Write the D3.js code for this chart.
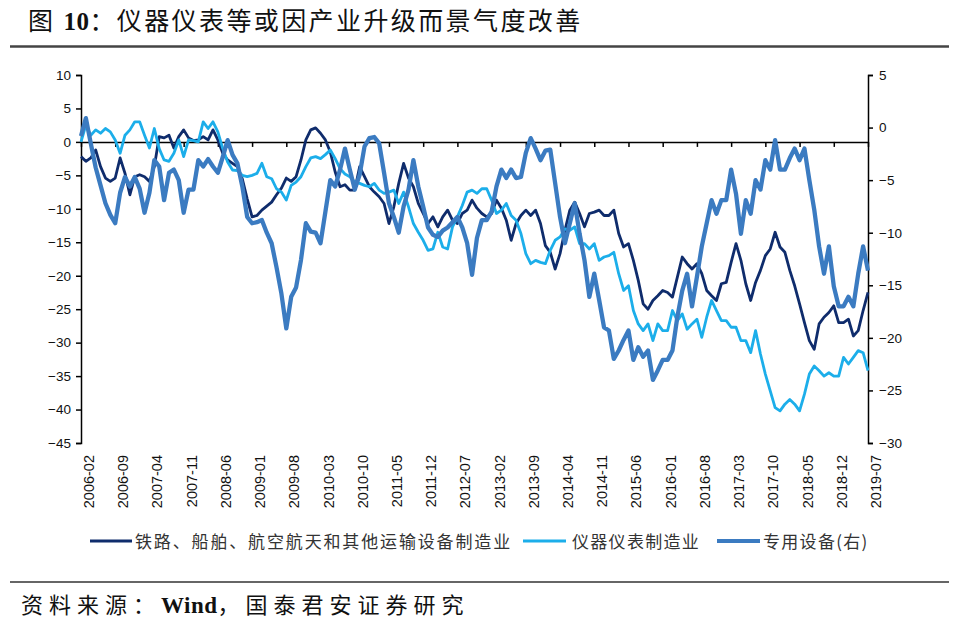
<!DOCTYPE html>
<html><head><meta charset="utf-8">
<script src="https://cdn.jsdelivr.net/npm/d3@7"></script>
<style>
html,body{margin:0;padding:0;background:#fff;}
svg{display:block;}
</style></head>
<body>
<svg id="c" width="959" height="618"></svg>
<script>
// ---- data ----
const startMonth = new Date(2006, 1, 1), endMonth = new Date(2019, 7, 1);
const months = d3.timeMonth.range(startMonth, endMonth).map(d3.timeFormat("%Y-%m"));
const seriesNames = ["铁路、船舶、航空航天和其他运输设备制造业", "仪器仪表制造业", "专用设备(右)"];
const leftTicks = [10, 5, 0, -5, -10, -15, -20, -25, -30, -35, -40, -45];
const rightTicks = [5, 0, -5, -10, -15, -20, -25, -30];

const railway = [
-2.2,-2.9,-2.4,-1.2,-3.7,-5.4,-5.9,-5.4,-2.4,-4.7,-7.9,-5.2,-4.9,-5.2,-5.9,-3.7,0.8,0.6,1.0,-0.9,
0.8,1.8,0.6,0.2,0.3,0.8,0.3,1.8,0.3,-1.7,-2.7,-3.2,-3.7,-5.5,-8.5,-11.2,-11.0,-10.2,-9.6,-9.0,
-7.9,-6.9,-5.4,-5.9,-5.2,-2.7,0.3,1.8,2.1,1.3,0.3,-1.5,-4.5,-6.7,-6.4,-7.2,-7.2,-3.7,-5.2,-6.7,
-7.5,-8.2,-9.2,-12.2,-9.7,-6.2,-3.2,-5.4,-6.7,-9.2,-10.7,-12.2,-11.2,-12.7,-11.2,-10.2,-11.7,-12.2,-10.7,-10.2,
-8.7,-9.9,-10.7,-11.2,-10.7,-8.7,-9.9,-11.7,-14.7,-12.2,-11.0,-10.2,-11.0,-10.2,-12.2,-15.5,-16.5,-19.0,-16.7,-13.2,
-10.2,-9.0,-10.7,-12.7,-10.7,-10.5,-10.2,-11.0,-11.0,-10.2,-13.7,-15.7,-15.2,-17.7,-20.7,-24.2,-25.0,-23.7,-23.0,-22.2,
-22.5,-23.2,-20.2,-17.2,-18.2,-19.0,-18.2,-19.7,-22.2,-23.0,-23.7,-21.2,-21.0,-18.0,-15.2,-17.7,-21.2,-23.7,-21.0,-19.2,
-17.0,-16.0,-13.5,-15.7,-16.5,-19.2,-21.5,-24.2,-27.0,-29.7,-31.0,-27.2,-26.2,-25.5,-24.5,-27.0,-27.0,-26.5,-29.0,-28.2,
-25.2,-22.5];

const instrument = [
0.0,2.5,1.0,1.8,1.3,2.0,1.5,0.3,-1.7,1.0,1.8,3.0,3.0,1.0,-0.9,2.0,-1.0,-2.7,-2.9,-1.7,
0.3,-2.2,0.3,0.2,0.0,3.0,2.0,3.0,1.5,-1.0,-3.0,-4.2,-4.3,-5.0,-5.2,-5.0,-4.7,-3.2,-5.2,-5.5,
-7.0,-7.5,-8.7,-6.5,-6.0,-5.2,-3.7,-2.4,-2.2,-2.5,-1.9,-1.2,-2.5,-4.0,-4.8,-5.2,-6.0,-6.2,-6.5,-6.7,
-6.2,-7.2,-7.7,-7.5,-7.2,-9.2,-7.5,-9.7,-12.2,-13.5,-14.7,-16.2,-16.0,-13.5,-15.7,-16.0,-12.7,-11.2,-9.5,-7.5,
-7.2,-7.7,-7.0,-7.0,-8.7,-10.7,-10.2,-9.2,-11.0,-11.7,-13.7,-16.7,-18.2,-17.7,-18.0,-18.2,-16.2,-14.7,-14.2,-13.0,
-13.2,-12.7,-15.2,-15.2,-16.0,-15.2,-17.7,-17.2,-17.0,-16.5,-19.7,-22.2,-21.5,-25.2,-27.2,-28.2,-27.2,-29.7,-27.2,-28.2,
-28.2,-25.2,-26.7,-25.7,-28.0,-27.2,-26.5,-29.2,-26.2,-23.7,-25.2,-26.7,-26.7,-27.7,-27.7,-29.7,-29.7,-31.5,-28.2,-31.7,
-34.7,-37.2,-39.7,-40.2,-39.2,-38.5,-39.2,-40.2,-37.7,-34.7,-33.5,-34.2,-35.0,-34.5,-35.0,-35.0,-32.2,-33.2,-32.2,-31.2,
-31.5,-34.2];

const specialEquip = [
-0.8,0.9,-1.5,-3.8,-5.5,-7.2,-8.3,-9.1,-6.2,-4.7,-5.6,-4.7,-5.8,-8.1,-6.2,-3.1,-3.7,-6.9,-4.3,-4.0,
-5.0,-8.1,-5.9,-5.9,-3.1,-3.7,-3.0,-3.7,-4.3,-2.8,-1.2,-2.6,-3.4,-5.6,-8.5,-9.1,-9.0,-8.8,-10.0,-11.0,
-13.3,-15.8,-19.1,-16.1,-15.2,-12.6,-9.1,-9.9,-10.0,-11.0,-8.0,-5.0,-5.6,-4.0,-2.0,-4.0,-5.9,-4.5,-1.8,-1.0,
-0.9,-1.5,-4.3,-7.2,-8.5,-10.0,-7.5,-5.9,-3.1,-5.6,-7.5,-9.5,-10.2,-10.4,-9.8,-9.5,-9.0,-8.5,-9.5,-11.0,
-14.0,-10.5,-8.8,-8.8,-8.0,-5.6,-4.0,-4.8,-4.0,-4.8,-4.7,-2.4,-1.0,-2.0,-3.1,-2.2,-2.1,-5.3,-8.5,-11.0,
-9.1,-7.2,-10.1,-12.6,-16.1,-13.9,-16.4,-19.0,-19.3,-22.0,-21.2,-20.2,-19.3,-22.1,-20.9,-21.8,-21.2,-24.0,-23.1,-22.1,
-22.1,-21.2,-18.0,-15.5,-13.9,-17.0,-14.2,-11.3,-9.1,-6.9,-8.2,-6.9,-6.9,-4.0,-6.3,-10.1,-6.9,-8.2,-5.0,-5.9,
-3.1,-4.0,-1.2,-4.0,-4.0,-2.9,-2.0,-3.1,-2.0,-5.0,-7.8,-11.3,-13.9,-11.3,-15.1,-17.0,-17.0,-16.1,-17.0,-13.9,
-11.3,-13.6];

// ---- drawing ----
const svg = d3.select("#c");
const colors = ["#0f2c6c", "#1caeea", "#3b7bc1"];
const widths = [2.8, 2.8, 4.3];
const plot = {left: 81, right: 868, top: 75, bottom: 443};

const x = d3.scalePoint().domain(months).range([plot.left, plot.right]);
const yL = d3.scaleLinear().domain([-45, 10]).range([plot.bottom, plot.top]);
const yR = d3.scaleLinear().domain([-30, 5]).range([plot.bottom, plot.top]);

const cjk = "'Noto Sans CJK SC', 'Noto Sans', sans-serif";
const latin = "'Liberation Sans', Arial, sans-serif";

// title
const title = svg.append("text").attr("x", 28).attr("y", 30)
  .attr("font-family", cjk).attr("font-size", 25).attr("fill", "#111").attr("letter-spacing", 2.4);
title.append("tspan").text("图 ");
title.append("tspan").attr("font-family", "'Liberation Serif', serif").attr("font-weight", "bold").attr("letter-spacing", 0.5).text("10");
title.append("tspan").text("：仪器仪表等或因产业升级而景气度改善");
svg.append("line").attr("x1", 10).attr("x2", 949).attr("y1", 46.5).attr("y2", 46.5)
  .attr("stroke", "#444").attr("stroke-width", 2.5);

// footer
svg.append("line").attr("x1", 10).attr("x2", 949).attr("y1", 582).attr("y2", 582)
  .attr("stroke", "#333").attr("stroke-width", 1.5);
const foot = svg.append("text").attr("x", 21).attr("y", 613)
  .attr("font-family", cjk).attr("font-size", 22).attr("fill", "#111").attr("letter-spacing", 6);
foot.append("tspan").text("资料来源：");
foot.append("tspan").attr("font-family", "'Liberation Serif', serif").attr("font-weight", "bold").attr("font-size", 23).attr("letter-spacing", 0.5).text("Wind");
foot.append("tspan").text("，国泰君安证券研究");

// left axis
const axL = svg.append("g").attr("transform", `translate(${plot.left},0)`)
  .call(d3.axisLeft(yL).tickValues(leftTicks).tickSize(5).tickPadding(5).tickFormat(d3.format("d")));
axL.select(".domain").attr("stroke", "#000").attr("stroke-width", 1.5);
axL.selectAll(".tick line").attr("stroke", "#000").attr("stroke-width", 1.5);
axL.selectAll("text").attr("font-family", latin).attr("font-size", 13.5).attr("fill", "#111");

// right axis
const axR = svg.append("g").attr("transform", `translate(${plot.right},0)`)
  .call(d3.axisRight(yR).tickValues(rightTicks).tickSize(5).tickPadding(6).tickFormat(d3.format("d")));
axR.select(".domain").attr("stroke", "#000").attr("stroke-width", 1.5);
axR.selectAll(".tick line").attr("stroke", "#000").attr("stroke-width", 1.5);
axR.selectAll("text").attr("font-family", latin).attr("font-size", 13.5).attr("fill", "#111");

// category axis at zero
const tickMonths = months.filter((d, i) => i % 7 === 0);
const axX = svg.append("g").attr("transform", `translate(0,${yL(0)})`)
  .call(d3.axisBottom(x).tickValues(tickMonths).tickSize(5).tickSizeOuter(0).tickFormat(""));
axX.select(".domain").attr("stroke", "#000").attr("stroke-width", 1.5);
axX.selectAll(".tick line").attr("stroke", "#000").attr("stroke-width", 1.5);

// rotated month labels at bottom
svg.append("g").selectAll("text").data(tickMonths).join("text")
  .attr("transform", d => `translate(${x(d) + 13},455) rotate(-90)`)
  .attr("text-anchor", "end")
  .attr("font-family", latin).attr("font-size", 14.5).attr("fill", "#111")
  .text(d => d);

// lines
const data = [railway, instrument, specialEquip];
const scales = [yL, yL, yR];
data.forEach((vals, k) => {
  const line = d3.line().x((d, i) => x(months[i])).y(d => scales[k](d));
  svg.append("path").datum(vals).attr("d", line)
    .attr("fill", "none").attr("stroke", colors[k]).attr("stroke-width", widths[k])
    .attr("stroke-linejoin", "round");
});

// legend
const legendItems = [
  {x1: 90, x2: 132, tx: 135, ls: 1.85},
  {x1: 523, x2: 566, tx: 572, ls: 1.3},
  {x1: 717, x2: 760, tx: 763, ls: 1.3}
];
legendItems.forEach((p, k) => {
  svg.append("line").attr("x1", p.x1).attr("x2", p.x2).attr("y1", 541).attr("y2", 541)
    .attr("stroke", colors[k]).attr("stroke-width", k === 2 ? 4 : 3);
  svg.append("text").attr("x", p.tx).attr("y", 547.5)
    .attr("font-family", cjk).attr("font-size", 17).attr("letter-spacing", p.ls).attr("fill", "#333")
    .text(seriesNames[k]);
});
</script>
</body></html>
